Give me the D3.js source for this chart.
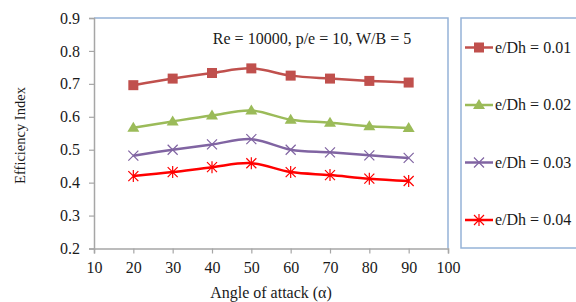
<!DOCTYPE html>
<html>
<head>
<meta charset="utf-8">
<script src="https://cdnjs.cloudflare.com/ajax/libs/d3/7.8.5/d3.min.js"></script>
<style>
    body { margin: 0; background: #fff; }
    svg text { font-family: "Liberation Serif", "Times New Roman", serif; fill: #1a1a1a; }
</style>
</head>
<body>
<script>
(function(){

    //data
    var angles = [20, 30, 40, 50, 60, 70, 80, 90];
    var eDh001 = [0.696, 0.716, 0.733, 0.747, 0.725, 0.716, 0.709, 0.704];
    var eDh002 = [0.567, 0.586, 0.604, 0.619, 0.591, 0.582, 0.571, 0.566];
    var eDh003 = [0.482, 0.500, 0.516, 0.532, 0.500, 0.492, 0.483, 0.475];
    var eDh004 = [0.420, 0.432, 0.447, 0.459, 0.432, 0.423, 0.412, 0.405];
    var seriesNames = ["e/Dh = 0.01", "e/Dh = 0.02", "e/Dh = 0.03", "e/Dh = 0.04"];
    var xTicks = [10, 20, 30, 40, 50, 60, 70, 80, 90, 100];
    var yTicks = [0.2, 0.3, 0.4, 0.5, 0.6, 0.7, 0.8, 0.9];

    var colors = ["#C0504D", "#9BBB59", "#8064A2", "#FF0000"];
    var markers = ["square", "triangle", "x", "star"];
    var allSeries = [eDh001, eDh002, eDh003, eDh004];

    var width = 576, height = 302;
    var svg = d3.select("body").append("svg")
        .attr("width", width)
        .attr("height", height);

    //plot area
    var left = 94, right = 448, top = 18, bottom = 248.5;

    var x = d3.scaleLinear().domain([10, 100]).range([left, right]);
    var y = d3.scaleLinear().domain([0.2, 0.9]).range([bottom, top]);

    //blue frame on top and right
    svg.append("path")
        .attr("d", "M" + left + "," + top + "H" + right + "V" + bottom)
        .attr("fill", "none")
        .attr("stroke", "#95B3D7")
        .attr("stroke-width", 1.5);

    //axes
    var xAxis = svg.append("g")
        .attr("transform", "translate(0," + bottom + ")")
        .call(d3.axisBottom(x).tickValues(xTicks).tickSize(5).tickPadding(8).tickFormat(d3.format("d")));
    var yAxis = svg.append("g")
        .attr("transform", "translate(" + left + ",0)")
        .call(d3.axisLeft(y).tickValues(yTicks).tickSize(5).tickPadding(9).tickFormat(d3.format(".1f")));

    [xAxis, yAxis].forEach(function(g){
        g.select(".domain").attr("stroke", "#A6A6A6").attr("stroke-width", 1.5);
        g.selectAll(".tick line").attr("stroke", "#A6A6A6").attr("stroke-width", 1.2);
        g.selectAll(".tick text")
            .attr("font-family", "Liberation Serif")
            .attr("font-size", 16)
            .attr("fill", "#1a1a1a");
    });

    //axis titles
    svg.append("text")
        .attr("x", 271)
        .attr("y", 298)
        .attr("text-anchor", "middle")
        .attr("font-size", 16)
        .text("Angle of attack (\u03B1)");

    svg.append("text")
        .attr("transform", "translate(24.5,135.5) rotate(-90)")
        .attr("text-anchor", "middle")
        .attr("font-size", 14.5)
        .text("Efficiency Index");

    //annotation
    svg.append("text")
        .attr("x", 312)
        .attr("y", 44)
        .attr("text-anchor", "middle")
        .attr("font-size", 16)
        .text("Re = 10000, p/e = 10, W/B = 5");

    //draw a marker of given type
    function drawMarker(g, type, cx, cy, color){
        if (type == "square"){
            g.append("rect")
                .attr("x", cx - 5).attr("y", cy - 5)
                .attr("width", 10).attr("height", 10)
                .attr("fill", color);
        } else if (type == "triangle"){
            g.append("path")
                .attr("d", "M" + cx + "," + (cy - 6) + "L" + (cx + 6) + "," + (cy + 4) + "L" + (cx - 6) + "," + (cy + 4) + "Z")
                .attr("fill", color);
        } else if (type == "x"){
            g.append("path")
                .attr("d", "M" + (cx - 5) + "," + (cy - 5) + "L" + (cx + 5) + "," + (cy + 5) + "M" + (cx + 5) + "," + (cy - 5) + "L" + (cx - 5) + "," + (cy + 5))
                .attr("stroke", color).attr("stroke-width", 1.2).attr("fill", "none");
        } else {
            g.append("path")
                .attr("d", "M" + (cx - 5) + "," + (cy - 5) + "L" + (cx + 5) + "," + (cy + 5) + "M" + (cx + 5) + "," + (cy - 5) + "L" + (cx - 5) + "," + (cy + 5) + "M" + cx + "," + (cy - 6) + "L" + cx + "," + (cy + 6))
                .attr("stroke", color).attr("stroke-width", 1.2).attr("fill", "none");
        }
    }

    var line = d3.line()
        .x(function(d){ return x(d[0]); })
        .y(function(d){ return y(d[1]); })
        .curve(d3.curveCatmullRom.alpha(0.5));

    allSeries.forEach(function(vals, i){
        var pts = angles.map(function(a, j){ return [a, vals[j]]; });
        var g = svg.append("g");
        g.append("path")
            .datum(pts)
            .attr("d", line)
            .attr("fill", "none")
            .attr("stroke", colors[i])
            .attr("stroke-width", 2.5);
        pts.forEach(function(p){
            drawMarker(g, markers[i], x(p[0]), y(p[1]), colors[i]);
        });
    });

    //legend box
    svg.append("rect")
        .attr("x", 461).attr("y", 18)
        .attr("width", 130).attr("height", 230)
        .attr("fill", "none")
        .attr("stroke", "#95B3D7")
        .attr("stroke-width", 1.5);

    var legendY = d3.scalePoint().domain(seriesNames).range([47.5, 220]);
    seriesNames.forEach(function(name, i){
        var ly = legendY(name);
        var g = svg.append("g");
        g.append("line")
            .attr("x1", 465).attr("x2", 493)
            .attr("y1", ly).attr("y2", ly)
            .attr("stroke", colors[i])
            .attr("stroke-width", 2.5);
        drawMarker(g, markers[i], 479, ly, colors[i]);
        g.append("text")
            .attr("x", 495)
            .attr("y", ly + 5)
            .attr("font-size", 16)
            .text(name);
    });

})();
</script>
</body>
</html>
